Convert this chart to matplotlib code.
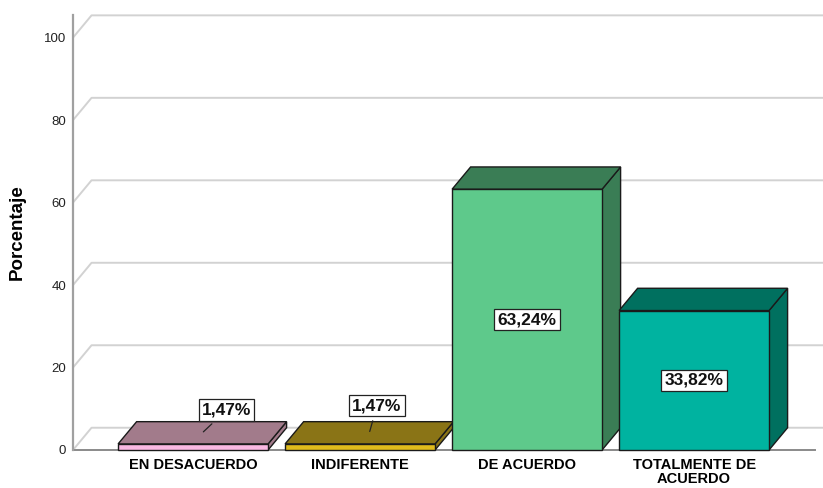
import matplotlib
matplotlib.use("Agg")
import matplotlib.pyplot as plt
from matplotlib.patches import Polygon, Rectangle

categories = ["EN DESACUERDO", "INDIFERENTE", "DE ACUERDO", "TOTALMENTE DE\nACUERDO"]
values = [1.47, 1.47, 63.24, 33.82]
labels = ["1,47%", "1,47%", "63,24%", "33,82%"]
front_colors = ["#F9B8E2", "#E0BB1C", "#5EC98B", "#00B3A0"]
shade_colors = ["#A27B8B", "#8A7416", "#3A7D55", "#00705F"]
yticks = [0, 20, 40, 60, 80, 100]

# 3D look: depth offset in data units
DX = 0.111
DY = 5.4
WIDTH = 0.898
XMIN, XMAX = -0.719, 3.772
YMAX = 106.7

fig = plt.figure(figsize=(8.23, 4.88), dpi=100)
ax = fig.add_axes([73 / 823, 38 / 488, 750 / 823, 440 / 488])
ax.set_xlim(XMIN, XMAX)
ax.set_ylim(0, YMAX)

# back grid lines with the diagonal "wall" joint
for t in yticks:
    ax.plot([XMIN, XMIN + DX, XMAX], [t, t + DY, t + DY], color="#D2D2D2",
            lw=1.4, zorder=0, clip_on=False, solid_capstyle="butt")
# floor front edge
ax.plot([XMIN, 3.725], [0, 0], color="#8A8A8A", lw=1.4, zorder=1, clip_on=False)

for i, (v, fc, sc) in enumerate(zip(values, front_colors, shade_colors)):
    L, R = i - WIDTH / 2, i + WIDTH / 2
    z = 2 + i
    side = Polygon([(R, 0), (R + DX, DY), (R + DX, v + DY), (R, v)],
                   closed=True, facecolor=sc, edgecolor="#1A1A1A", lw=1, zorder=z)
    top = Polygon([(L, v), (L + DX, v + DY), (R + DX, v + DY), (R, v)],
                  closed=True, facecolor=sc, edgecolor="#1A1A1A", lw=1, zorder=z)
    front = Rectangle((L, 0), WIDTH, v, facecolor=fc, edgecolor="#1A1A1A",
                      lw=1, zorder=z)
    for p in (side, top, front):
        p.set_clip_on(False)
        ax.add_patch(p)

label_font = dict(family=["Liberation Sans Narrow", "Liberation Sans"],
                  fontweight="bold", fontsize=12.5, color="#111111")
box = dict(boxstyle="square,pad=0.18", facecolor="white", edgecolor="#222222", lw=0.9)
small_offsets = {0: (17.5, 16.5), 1: (5.5, 19.5)}
for i, (v, lab) in enumerate(zip(values, labels)):
    if v > 10:
        ax.text(i, v / 2, lab, ha="center", va="center", bbox=box, zorder=20,
                **label_font)
    else:
        ox, oy = small_offsets[i]
        ax.annotate(lab, xy=(i + DX / 2, v + DY / 2), xytext=(ox, oy),
                    textcoords="offset points", ha="center", va="center",
                    bbox=box, zorder=20,
                    arrowprops=dict(arrowstyle="-", color="#222222", lw=0.9,
                                    shrinkA=3, shrinkB=1),
                    **label_font)

ax.set_xticks(range(len(categories)))
ax.set_xticklabels(categories, fontsize=10.5, fontweight="bold",
                   family="Liberation Sans", linespacing=0.95)
ax.set_yticks(yticks)
ax.set_yticklabels([str(t) for t in yticks], fontsize=9.5,
                   family="Liberation Sans", color="#222222")
ax.tick_params(axis="x", length=0, pad=6)
ax.tick_params(axis="y", length=0, pad=5)

for s in ("top", "right", "bottom"):
    ax.spines[s].set_visible(False)
ax.spines["left"].set_color("#A0A0A0")
ax.spines["left"].set_linewidth(1.6)
ax.spines["left"].set_bounds(0, 105.5)
ax.spines["left"].set_zorder(1.5)

fig.text(17 / 823, 1 - 232 / 488, "Porcentaje", rotation=90, ha="center",
         va="center", fontsize=13.5, fontweight="bold", family="Liberation Sans")

fig.savefig("out.png", dpi=100)
